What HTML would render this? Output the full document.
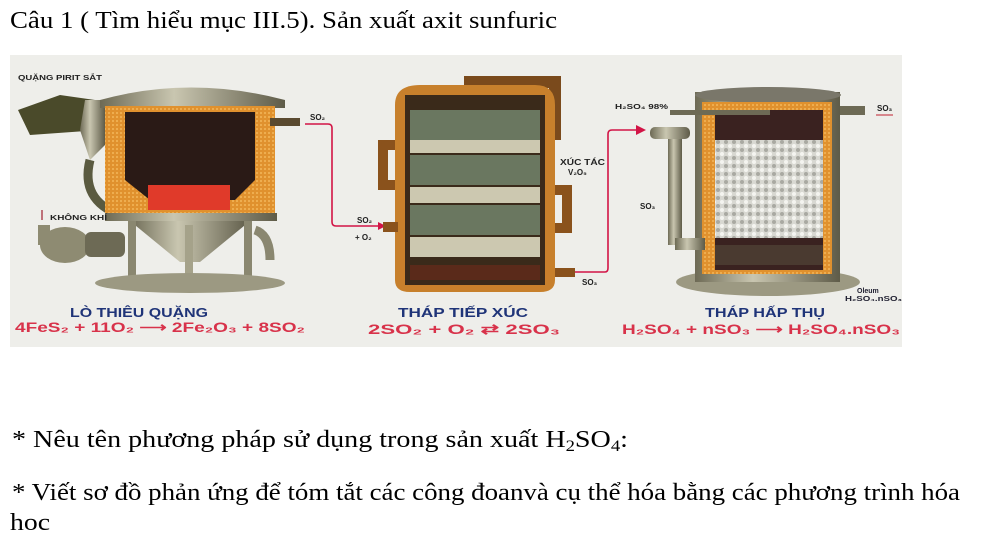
<!DOCTYPE html>
<html><head><meta charset="utf-8"><style>
html,body{margin:0;padding:0;background:#fff;}
svg{display:block}
.t{font-family:"Liberation Serif",serif;font-size:24px;fill:#000}
.s{font-family:"Liberation Sans",sans-serif;font-weight:bold;}
</style></head><body>
<svg width="994" height="540" viewBox="0 0 994 540" xmlns="http://www.w3.org/2000/svg">
<defs>
<linearGradient id="metal" x1="0" x2="1"><stop offset="0" stop-color="#6d6a55"/><stop offset="0.4" stop-color="#c9c6b0"/><stop offset="1" stop-color="#5e5b48"/></linearGradient>
<pattern id="pack" width="8" height="8" patternUnits="userSpaceOnUse"><rect width="8" height="8" fill="#d8d8d2"/><circle cx="2" cy="2" r="2" fill="#f4f4f0"/><circle cx="6" cy="6" r="2" fill="#a9a9a2"/></pattern>
<pattern id="brick" width="4" height="4" patternUnits="userSpaceOnUse"><rect width="4" height="4" fill="#e0912e"/><circle cx="1" cy="1" r="1" fill="#f3b65a"/></pattern>
</defs>
<text class="t" x="10" y="28" textLength="547" lengthAdjust="spacingAndGlyphs">Câu 1 ( Tìm hiểu mục III.5). Sản xuất axit sunfuric</text>

<rect x="10" y="55" width="892" height="292" fill="#eeeeea"/>

<!-- Furnace -->
<path d="M18 110 L60 95 L95 100 L100 130 L30 135 Z" fill="#4a4a2a"/>
<path d="M85 100 L105 100 L105 145 L90 160 L80 130 Z" fill="url(#metal)"/>
<path d="M90 160 Q80 200 120 215" stroke="#5a5a40" stroke-width="9" fill="none"/>
<path d="M100 100 Q190 75 285 100 L285 108 L100 108 Z" fill="url(#metal)"/>
<rect x="105" y="106" width="170" height="112" fill="url(#brick)"/>
<path d="M125 112 L255 112 L255 180 L235 200 L150 200 L125 180 Z" fill="#2a1a16"/>
<rect x="148" y="185" width="82" height="25" fill="#e03a2a"/>
<rect x="105" y="213" width="172" height="8" fill="url(#metal)"/>
<path d="M130 221 L250 221 L200 262 L180 262 Z" fill="url(#metal)"/>
<rect x="128" y="221" width="8" height="58" fill="#8a8770"/>
<rect x="244" y="221" width="8" height="58" fill="#8a8770"/>
<rect x="185" y="225" width="8" height="60" fill="#a5a28a"/>
<ellipse cx="190" cy="283" rx="95" ry="10" fill="#9c9982"/>
<path d="M255 230 Q270 235 270 260" stroke="#8a8770" stroke-width="9" fill="none"/>
<ellipse cx="65" cy="245" rx="25" ry="18" fill="#8e8b72"/>
<rect x="85" y="232" width="40" height="25" rx="6" fill="#6d6a55"/>
<rect x="38" y="225" width="12" height="20" fill="#8e8b72"/>
<rect x="270" y="118" width="30" height="8" fill="#5a4a30"/>
<text class="s" x="18" y="80" font-size="7.5" fill="#222" textLength="84" lengthAdjust="spacingAndGlyphs">QUẶNG PIRIT SẮT</text>
<text class="s" x="50" y="220" font-size="7.5" fill="#222" textLength="57" lengthAdjust="spacingAndGlyphs">KHÔNG KHÍ</text>
<path d="M42 210 L42 220" stroke="#a02030" stroke-width="1.2"/>
<text class="s" x="310" y="120" font-size="8" fill="#222">SO₂</text>
<path d="M305 124 L328 124 Q332 124 332 128 L332 222 Q332 226 336 226 L378 226" stroke="#d21446" stroke-width="1.6" fill="none"/>
<path d="M378 222 L386 226 L378 230 Z" fill="#d21446"/>
<text class="s" x="357" y="223" font-size="8" fill="#222">SO₂</text>
<text class="s" x="355" y="240" font-size="8" fill="#222">+ O₂</text>
<text class="s" x="70" y="317" font-size="13" fill="#1f3478" textLength="138" lengthAdjust="spacingAndGlyphs">LÒ THIÊU QUẶNG</text>
<text class="s" x="15" y="332" font-size="14" fill="#d8324a" textLength="290" lengthAdjust="spacingAndGlyphs">4FeS₂ + 11O₂  ⟶  2Fe₂O₃ + 8SO₂</text>

<!-- Contact tower -->
<path d="M470 135 L470 82 L555 82 L555 140" stroke="#7a4a1c" stroke-width="12" fill="none"/>
<path d="M395 105 Q395 85 420 85 L535 85 Q555 85 555 105 L555 280 Q555 292 540 292 L410 292 Q395 292 395 280 Z" fill="#c7802c"/>
<rect x="405" y="95" width="140" height="190" fill="#3a2a1a"/>
<rect x="410" y="110" width="130" height="30" fill="#6a7760"/>
<rect x="410" y="155" width="130" height="30" fill="#6a7760"/>
<rect x="410" y="205" width="130" height="30" fill="#6a7760"/>
<rect x="410" y="140" width="130" height="13" fill="#ccc8b0"/>
<rect x="410" y="187" width="130" height="16" fill="#ccc8b0"/>
<rect x="410" y="237" width="130" height="20" fill="#ccc8b0"/>
<rect x="410" y="265" width="130" height="15" fill="#5a2a1a"/>
<path d="M395 145 L383 145 L383 185 L395 185" stroke="#8a521c" stroke-width="10" fill="none"/>
<path d="M555 190 L567 190 L567 228 L555 228" stroke="#8a521c" stroke-width="10" fill="none"/>
<rect x="383" y="222" width="15" height="10" fill="#8a521c"/>
<rect x="555" y="268" width="20" height="9" fill="#8a521c"/>
<text class="s" x="560" y="165" font-size="8" fill="#222" textLength="45" lengthAdjust="spacingAndGlyphs">XÚC TÁC</text>
<text class="s" x="568" y="175" font-size="8" fill="#222">V₂O₅</text>
<text class="s" x="582" y="285" font-size="8" fill="#222">SO₃</text>
<path d="M575 272 L605 272 Q608 272 608 268 L608 134 Q608 130 612 130 L638 130" stroke="#d21446" stroke-width="1.6" fill="none"/>
<path d="M636 125 L646 130 L636 135 Z" fill="#d21446"/>
<text class="s" x="398" y="317" font-size="13" fill="#1f3478" textLength="130" lengthAdjust="spacingAndGlyphs">THÁP TIẾP XÚC</text>
<text class="s" x="368" y="334" font-size="14" fill="#d8324a" textLength="192" lengthAdjust="spacingAndGlyphs">2SO₂ + O₂  ⇄  2SO₃</text>

<!-- Absorption tower -->
<ellipse cx="768" cy="282" rx="92" ry="14" fill="#9c9982"/>
<rect x="695" y="92" width="145" height="190" fill="url(#metal)"/>
<ellipse cx="768" cy="95" rx="73" ry="8" fill="#7a776a"/>
<rect x="702" y="102" width="130" height="172" fill="url(#brick)"/>
<rect x="715" y="110" width="108" height="160" fill="#3a2220"/>
<rect x="715" y="140" width="108" height="98" fill="url(#pack)"/>
<rect x="715" y="245" width="108" height="20" fill="#4a3a30"/>
<rect x="668" y="135" width="14" height="110" fill="url(#metal)"/>
<rect x="650" y="127" width="40" height="12" rx="5" fill="url(#metal)"/>
<rect x="675" y="238" width="30" height="12" fill="url(#metal)"/>
<rect x="670" y="110" width="100" height="5" fill="#6d6a55"/>
<rect x="840" y="106" width="25" height="9" fill="#6d6a55"/>
<text class="s" x="615" y="109" font-size="7.5" fill="#222" textLength="53" lengthAdjust="spacingAndGlyphs">H₂SO₄ 98%</text>
<text class="s" x="877" y="111" font-size="8" fill="#222">SO₃</text>
<path d="M876 115 L893 115" stroke="#c02030" stroke-width="1"/>
<text class="s" x="640" y="209" font-size="8" fill="#222">SO₃</text>
<text class="s" x="857" y="293" font-size="7" fill="#223">Oleum</text>
<text class="s" x="845" y="301" font-size="7" fill="#223" textLength="57" lengthAdjust="spacingAndGlyphs">H₂SO₄.nSO₃</text>
<text class="s" x="705" y="317" font-size="13" fill="#1f3478" textLength="120" lengthAdjust="spacingAndGlyphs">THÁP HẤP THỤ</text>
<text class="s" x="622" y="334" font-size="14" fill="#d8324a" textLength="278" lengthAdjust="spacingAndGlyphs">H₂SO₄ + nSO₃  ⟶  H₂SO₄.nSO₃</text>

<text class="t" x="12" y="447" textLength="616" lengthAdjust="spacingAndGlyphs">* Nêu tên phương pháp sử dụng trong sản xuất H<tspan font-size="16" dy="4">2</tspan><tspan dy="-4">SO</tspan><tspan font-size="16" dy="4">4</tspan><tspan dy="-4">:</tspan></text>
<text class="t" x="12" y="500" textLength="948" lengthAdjust="spacingAndGlyphs">* Viết sơ đồ phản ứng để tóm tắt các công đoanvà cụ thể hóa bằng các phương trình hóa</text>
<text class="t" x="10" y="530" textLength="40" lengthAdjust="spacingAndGlyphs">hoc</text>
</svg>
</body></html>
